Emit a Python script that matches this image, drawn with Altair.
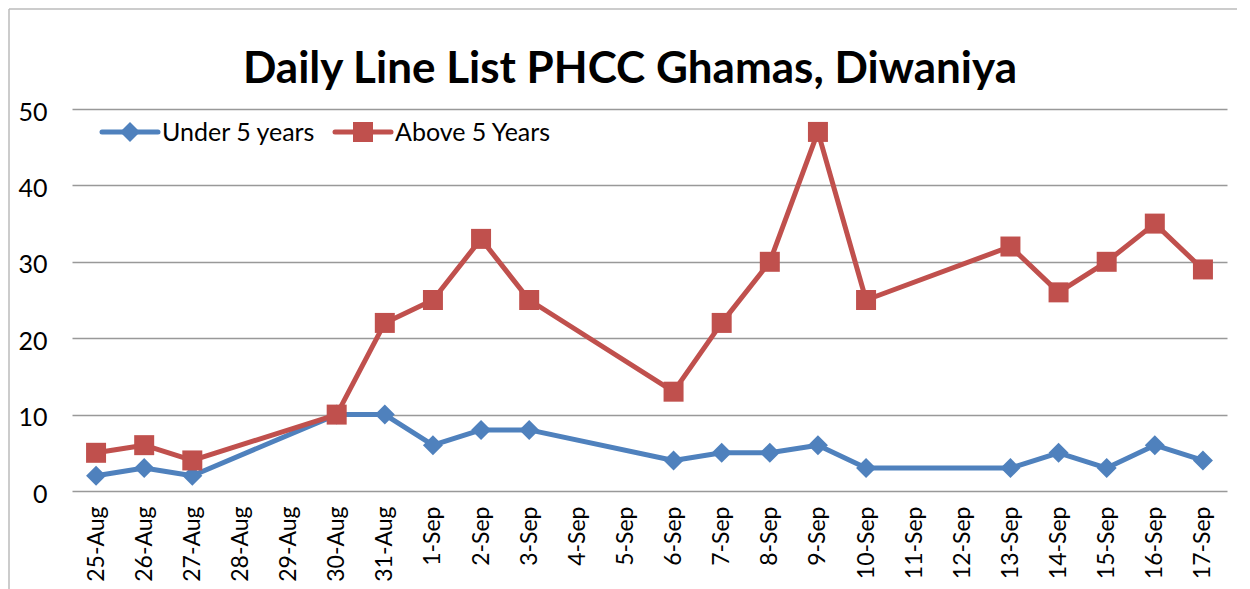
import altair as alt
import pandas as pd

title_text = "Daily Line List PHCC Ghamas, Diwaniya"
categories = ["25-Aug", "26-Aug", "27-Aug", "28-Aug", "29-Aug", "30-Aug", "31-Aug",
              "1-Sep", "2-Sep", "3-Sep", "4-Sep", "5-Sep", "6-Sep", "7-Sep", "8-Sep",
              "9-Sep", "10-Sep", "11-Sep", "12-Sep", "13-Sep", "14-Sep", "15-Sep",
              "16-Sep", "17-Sep"]
data_dates = ["25-Aug", "26-Aug", "27-Aug", "30-Aug", "31-Aug", "1-Sep", "2-Sep", "3-Sep",
              "6-Sep", "7-Sep", "8-Sep", "9-Sep", "10-Sep", "13-Sep", "14-Sep", "15-Sep",
              "16-Sep", "17-Sep"]
under5 = [2, 3, 2, 10, 10, 6, 8, 8, 4, 5, 5, 6, 3, 3, 5, 3, 6, 4]
above5 = [5, 6, 4, 10, 22, 25, 33, 25, 13, 22, 30, 47, 25, 32, 26, 30, 35, 29]
series_names = ["Under 5 years", "Above 5 Years"]
series_values = [under5, above5]
colors = ["#4F81BD", "#C0504D"]
shapes = ["diamond", "square"]
y_ticks = [0, 10, 20, 30, 40, 50]

FONT = "Lato"
W, H = 1155, 382

rows = []
for name, vals in zip(series_names, series_values):
    for d, v in zip(data_dates, vals):
        rows.append({"date": d, "series": name, "value": v})
df = pd.DataFrame(rows)

x_enc = alt.X("date:O", sort=categories,
              scale=alt.Scale(domain=categories, padding=0.5),
              axis=alt.Axis(title=None, labelAngle=-90, labelAlign="right",
                            labelBaseline="middle", ticks=False, domain=False,
                            grid=False, labelPadding=15, labelFontSize=23,
                            labelFont=FONT, labelColor="#000000"))
y_enc = alt.Y("value:Q", scale=alt.Scale(domain=[0, 50], nice=False),
              axis=alt.Axis(title=None, values=y_ticks, ticks=False, domain=False,
                            grid=True, gridColor="#999999", gridWidth=1.5,
                            labelPadding=25, labelFontSize=25, labelFont=FONT,
                            labelColor="#000000", labelOffset=3))

base = alt.Chart(df)
layers = []
for i, name in enumerate(series_names):
    sub = base.transform_filter(alt.datum.series == name)
    layers.append(sub.mark_line(strokeWidth=5, color=colors[i], strokeJoin="round")
                  .encode(x=x_enc, y=y_enc))
    layers.append(sub.mark_point(filled=True, size=400, opacity=1, color=colors[i],
                                 shape=shapes[i])
                  .encode(x=x_enc, y=y_enc))

# legend (inside top-left)
leg_x = [30, 263]
for i, name in enumerate(series_names):
    ld = alt.Chart(pd.DataFrame({"series": [name]}))
    layers.append(ld.mark_rule(strokeWidth=5, color=colors[i], strokeCap="round")
                  .encode(x=alt.value(leg_x[i]), x2=alt.value(leg_x[i] + 56), y=alt.value(23)))
    layers.append(ld.mark_point(filled=True, size=400, opacity=1, color=colors[i],
                                shape=shapes[i])
                  .encode(x=alt.value(leg_x[i] + 28), y=alt.value(23)))
    layers.append(ld.mark_text(align="left", baseline="middle", fontSize=25, font=FONT,
                               color="#000000")
                  .encode(x=alt.value(leg_x[i] + 60), y=alt.value(24), text="series:N"))

# title
tdf = alt.Chart(pd.DataFrame({"t": [title_text]}))
layers.append(tdf.mark_text(align="center", baseline="alphabetic", fontSize=44,
                            fontWeight="bold", font=FONT, color="#000000")
              .encode(x=alt.value(558), y=alt.value(-26), text="t:N"))

# chart frame
layers.append(tdf.mark_rule(color="#BBBBBB", strokeWidth=1.5)
              .encode(x=alt.value(-63), y=alt.value(-100), y2=alt.value(490)))
layers.append(tdf.mark_rule(color="#BBBBBB", strokeWidth=1.5)
              .encode(x=alt.value(-63), x2=alt.value(W + 12), y=alt.value(-100)))

chart = alt.layer(*layers).properties(
    width=W, height=H,
    padding={"left": 64, "top": 101, "right": 10, "bottom": 100},
    autosize=alt.AutoSizeParams(type="none"),
).configure_view(stroke=None)

chart.save("out.html", embed_options={"renderer": "svg", "actions": False})
